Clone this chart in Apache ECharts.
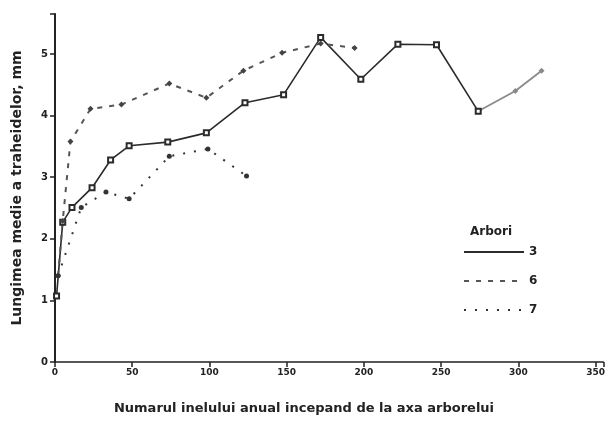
<!DOCTYPE html>
<html>
<head>
<meta charset="utf-8">
<script src="https://cdn.jsdelivr.net/npm/echarts@6/dist/echarts.min.js"></script>
<style>html,body{margin:0;padding:0;background:#fff}#c{width:608px;height:421px}</style>
</head>
<body>
<div id="c"></div>
<script>
// Series names (trees)
var seriesNames = ['3', '6', '7'];
// [ring number from pith, mean tracheid length mm]
var tree3 = [[1,1.07],[5,2.27],[11,2.51],[24,2.83],[36,3.28],[48,3.51],[73,3.57],[98,3.72],[123,4.21],[148,4.34],[172,5.27],[198,4.59],[222,5.16],[247,5.15],[274,4.07],[298,4.40],[315,4.73]];
var tree6 = [[2,1.40],[5,2.29],[10,3.58],[23,4.11],[43,4.18],[74,4.52],[98,4.29],[122,4.73],[147,5.02],[172,5.17],[194,5.10]];
var tree7 = [[2,1.40],[17,2.51],[33,2.76],[48,2.65],[74,3.34],[99,3.46],[124,3.02]];
var xTicks = [0, 50, 100, 150, 200, 250, 300, 350];
var yTicks = [0, 1, 2, 3, 4, 5];
var xTitle = 'Numarul inelului anual incepand de la axa arborelui';
var yTitle = 'Lungimea medie a traheidelor, mm';
var legendTitle = 'Arbori';
var tree3GreyFrom = 14; // the last segments of tree 3 are printed in grey

var font = 'DejaVu Sans, sans-serif';
var chart = echarts.init(document.getElementById('c'), null, {renderer: 'canvas'});
chart.setOption({
  animation: false,
  backgroundColor: '#fff',
  title: {
    text: xTitle, left: 'center', top: 397,
    textStyle: {fontFamily: font, fontSize: 13, fontWeight: 'bold', color: '#222'}
  },
  graphic: [{
    type: 'text', left: 470, top: 226,
    style: {text: legendTitle, font: 'bold 12px ' + font, fill: '#222'}
  }],
  legend: {
    orient: 'vertical', left: 458, top: 241,
    itemWidth: 60, itemHeight: 10, itemGap: 17,
    data: seriesNames,
    itemStyle: {opacity: 0},
    textStyle: {fontFamily: font, fontSize: 12, fontWeight: 'bold', color: '#222'}
  },
  grid: {left: 55, right: 3, top: 14, bottom: 59},
  xAxis: {
    type: 'value', min: 0, max: 355, interval: 50,
    axisLine: {lineStyle: {color: '#222', width: 1.5}},
    axisTick: {show: true, length: 5, lineStyle: {color: '#222', width: 1.5}},
    splitLine: {show: false},
    axisLabel: {
      margin: 6, color: '#222', fontFamily: font, fontSize: 9, fontWeight: 'bold',
      formatter: function (v) { return xTicks.indexOf(v) >= 0 ? String(v) : ''; }
    }
  },
  yAxis: {
    type: 'value', min: 0, max: 5.65, interval: 1,
    name: yTitle, nameLocation: 'middle', nameGap: 31,
    nameTextStyle: {fontFamily: font, fontSize: 14, fontWeight: 'bold', color: '#222'},
    axisLine: {show: true, lineStyle: {color: '#222', width: 2}},
    axisTick: {show: true, length: 5, lineStyle: {color: '#222', width: 1.5}},
    splitLine: {show: false},
    axisLabel: {
      margin: 7, color: '#222', fontFamily: font, fontSize: 10, fontWeight: 'bold',
      formatter: function (v) { return yTicks.indexOf(v) >= 0 ? String(v) : ''; }
    }
  },
  series: [{
    name: seriesNames[0], type: 'line', data: tree3.slice(0, tree3GreyFrom + 1),
    symbol: 'emptyRect', symbolSize: 5, z: 3,
    lineStyle: {width: 1.6, type: 'solid', color: '#2b2b2b'},
    itemStyle: {color: '#2b2b2b', borderWidth: 1.2}
  }, {
    name: seriesNames[0], type: 'line', data: tree3.slice(tree3GreyFrom),
    symbol: 'diamond', symbolSize: 6, z: 2,
    lineStyle: {width: 1.8, type: 'solid', color: '#8a8a8a'},
    itemStyle: {color: '#8a8a8a'}
  }, {
    name: seriesNames[1], type: 'line', data: tree6,
    symbol: 'diamond', symbolSize: 6,
    lineStyle: {width: 2, color: '#555', type: [5, 7]},
    itemStyle: {color: '#444'}
  }, {
    name: seriesNames[2], type: 'line', data: tree7,
    symbol: 'circle', symbolSize: 5,
    lineStyle: {width: 2, color: '#333', type: [2, 9]},
    itemStyle: {color: '#333'}
  }]
});
</script>
</body>
</html>
